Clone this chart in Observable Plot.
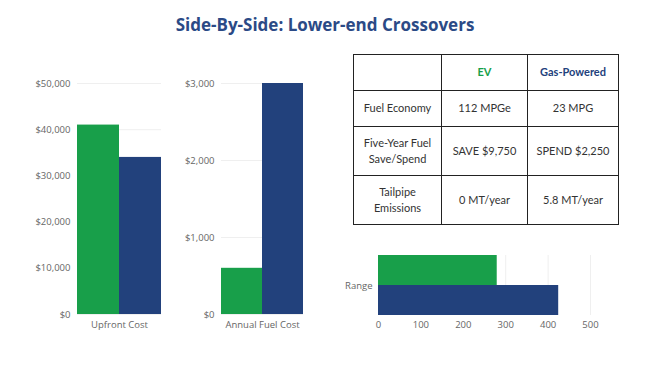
<!DOCTYPE html>
<html>
<head>
<meta charset="utf-8">
<script src="https://cdn.jsdelivr.net/npm/d3@7"></script>
<script src="https://cdn.jsdelivr.net/npm/@observablehq/plot@0.6"></script>
<style>
  html, body { margin: 0; padding: 0; background: #fff; }
  body { width: 650px; height: 366px; position: relative; overflow: hidden; font-family: "Open Sans", sans-serif; }
  #title { position: absolute; left: 0; top: 13px; width: 650px; text-align: center; font-family: "Open Sans", sans-serif; font-weight: 700; font-size: 17px; color: #2b4a86; }
  .chart { position: absolute; }
  #tbl { position: absolute; left: 353px; top: 54px; border-collapse: collapse; font-family: Lato, sans-serif; font-size: 11px; color: #333; }
  #tbl td { border: 1.5px solid #222; text-align: center; vertical-align: middle; padding: 0 4px; line-height: 1.5; }
</style>
</head>
<body>
<div id="title">Side-By-Side: Lower-end Crossovers</div>
<div id="c1" class="chart" style="left:0px;top:70px"></div>
<div id="c2" class="chart" style="left:170px;top:70px"></div>
<div id="c3" class="chart" style="left:330px;top:245px"></div>
<table id="tbl"></table>
<script>
// ---- data ----
const series = ["EV", "Gas-Powered"];
const seriesColors = ["#189f4a", "#22417c"];
const upfrontCategory = "Upfront Cost";
const upfrontCost = [41000, 34000];
const upfrontTicks = [0, 10000, 20000, 30000, 40000, 50000];
const annualCategory = "Annual Fuel Cost";
const annualFuelCost = [600, 3000];
const annualTicks = [0, 1000, 2000, 3000];
const rangeCategory = "Range";
const rangeMiles = [280, 425];
const rangeTicks = [0, 100, 200, 300, 400, 500];
const tableRowLabels = ["Fuel Economy", "Five-Year Fuel<br>Save/Spend", "Tailpipe<br>Emissions"];
const tableEV = ["112 MPGe", "SAVE $9,750", "0 MT/year"];
const tableGas = ["23 MPG", "SPEND $2,250", "5.8 MT/year"];

const dollar = d => "$" + d3.format(",")(d);
const baseStyle = {fontFamily: "Open Sans", fontSize: "9.5px", color: "#666", background: "transparent", overflow: "visible"};

function verticalChart(category, values, ticks, w, ml, mr) {
  const data = series.map((s, i) => ({category, series: s, value: values[i]}));
  return Plot.plot({
    width: w, height: 270, marginLeft: ml, marginRight: mr, marginTop: 13, marginBottom: 26,
    style: baseStyle,
    fx: {padding: 0, label: null, axis: "bottom", tickSize: 0, tickPadding: 7},
    x: {domain: series, padding: 0, axis: null},
    y: {domain: [0, ticks[ticks.length - 1]], ticks, tickFormat: dollar, tickSize: 0, tickPadding: 7, label: null, grid: true},
    color: {domain: series, range: seriesColors},
    marks: [
      Plot.barY(data, {fx: "category", x: "series", y: "value", fill: "series"})
    ]
  });
}

document.getElementById("c1").append(verticalChart(upfrontCategory, upfrontCost, upfrontTicks, 170, 77, 9));
document.getElementById("c2").append(verticalChart(annualCategory, annualFuelCost, annualTicks, 143, 51, 10));

const rangeData = series.map((s, i) => ({category: rangeCategory, series: s, value: rangeMiles[i]}));
document.getElementById("c3").append(Plot.plot({
  width: 290, height: 95, marginLeft: 48, marginRight: 30, marginTop: 10, marginBottom: 25,
  style: baseStyle,
  fy: {padding: 0, label: null, axis: "left", tickSize: 0, tickPadding: 6},
  y: {domain: series, padding: 0, axis: null},
  x: {domain: [0, 500], ticks: rangeTicks, tickSize: 0, tickPadding: 6, label: null, grid: true},
  color: {domain: series, range: seriesColors},
  marks: [
    Plot.barX(rangeData, {fy: "category", y: "series", x: "value", fill: "series"})
  ]
}));

// ---- table ----
const tbl = document.getElementById("tbl");
const colW = [88, 86, 91];
const rowH = [36, 36, 49, 49];
let html = `<tr style="height:${rowH[0]}px"><td style="width:${colW[0]-9}px"></td>` +
  `<td style="width:${colW[1]-9}px;color:${seriesColors[0]};font-weight:700">${series[0]}</td>` +
  `<td style="width:${colW[2]-9}px;color:${seriesColors[1]};font-weight:700">${series[1]}</td></tr>`;
tableRowLabels.forEach((lab, i) => {
  html += `<tr style="height:${rowH[i+1]}px"><td>${lab}</td><td>${tableEV[i]}</td><td>${tableGas[i]}</td></tr>`;
});
tbl.innerHTML = html;
</script>
</body>
</html>
